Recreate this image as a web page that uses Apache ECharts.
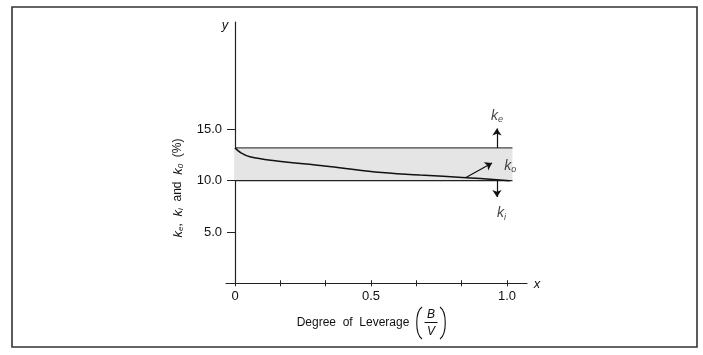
<!DOCTYPE html>
<html>
<head>
<meta charset="utf-8">
<script src="https://cdn.jsdelivr.net/npm/echarts@6/dist/echarts.min.js"></script>
<style>
html,body{margin:0;padding:0;background:#fff;}
#c{width:703px;height:355px;}
</style>
</head>
<body>
<div id="c"></div>
<script>
// Data
var xTickValues = [0, 1/6, 2/6, 3/6, 4/6, 5/6, 1];
var xLabelValues = [0, 0.5, 1.0];
var xLabelTexts = ['0', '0.5', '1.0'];
var yTickValues = [5, 10, 15];
var yLabelTexts = ['5.0', '10.0', '15.0'];
var bandX = [0, 1.02];
var keValue = 13.2;   // cost of equity line
var kiValue = 10.0;   // cost of debt line
var k0X = [0, 0.02, 0.055, 0.147, 0.33, 0.515, 0.68, 0.85, 1.01];
var k0Y = [13.2, 12.75, 12.34, 11.95, 11.43, 10.85, 10.56, 10.3, 10.0];
var keArrow = [[0.963, 13.2], [0.963, 15.1]];
var kiArrow = [[0.963, 10.0], [0.963, 8.4]];
var k0Arrow = [[0.849, 10.31], [0.945, 11.72]];
var labelPoints = [
  {x: 0.963, y: 16.3, sub: 'e'},
  {x: 1.012, y: 11.45, sub: 'o'},
  {x: 0.98, y: 6.8, sub: 'i'}
];

var FONT = 'Liberation Sans, Arial, Helvetica, sans-serif';
var chart = echarts.init(document.getElementById('c'), null, {renderer: 'canvas'});

function zip(xs, ys) { return xs.map(function (x, i) { return [x, ys[i]]; }); }
function fmt(vals, texts) {
  return function (v) {
    for (var i = 0; i < vals.length; i++) if (Math.abs(v - vals[i]) < 1e-6) return texts[i];
    return '';
  };
}

var option = {
  animation: false,
  backgroundColor: '#fff',
  grid: {left: 226, right: 176, top: 22, bottom: 71.7, containLabel: false},
  xAxis: [{
    type: 'value', min: -0.0331, max: 1.0735,
    splitLine: {show: false},
    axisLine: {onZero: false, lineStyle: {color: '#222', width: 1.2}},
    axisTick: {show: true, length: 3, inside: false, customValues: xTickValues, lineStyle: {color: '#222', width: 1}},
    axisLabel: {customValues: xLabelValues, margin: 7, color: '#111', fontSize: 13, fontFamily: FONT,
      formatter: fmt(xLabelValues, xLabelTexts)}
  }, {
    type: 'value', min: -0.0331, max: 1.0735, position: 'bottom',
    splitLine: {show: false},
    axisLine: {show: false},
    axisTick: {show: true, length: 3, inside: true, customValues: xTickValues, lineStyle: {color: '#222', width: 1}},
    axisLabel: {show: false}
  }],
  yAxis: {
    type: 'value', min: 0, max: 25.47,
    splitLine: {show: false},
    axisLine: {onZero: true, lineStyle: {color: '#222', width: 1.2}},
    axisTick: {show: true, length: 8, customValues: yTickValues, lineStyle: {color: '#222', width: 1}},
    axisLabel: {customValues: yTickValues, margin: 4, color: '#111', fontSize: 13, fontFamily: FONT,
      formatter: fmt(yTickValues, yLabelTexts)}
  },
  series: [
    {
      type: 'line', data: zip(bandX, [keValue, keValue]), symbol: 'none',
      lineStyle: {color: '#444', width: 1.3}, z: 3,
      markArea: {silent: true, itemStyle: {color: '#e5e5e5'}, data: [[{coord: [bandX[0], kiValue]}, {coord: [bandX[1], keValue]}]]}
    },
    {
      type: 'line', data: zip(bandX, [kiValue, kiValue]), symbol: 'none',
      lineStyle: {color: '#222', width: 1.3}, z: 3
    },
    {
      type: 'line', data: zip(k0X, k0Y), symbol: 'none', smooth: 0.4,
      lineStyle: {color: '#111', width: 1.5}, z: 4
    },
    {
      type: 'lines', coordinateSystem: 'cartesian2d', z: 5,
      symbol: ['none', 'arrow'], symbolSize: 7,
      lineStyle: {color: '#111', width: 1.2, opacity: 1},
      data: [{coords: keArrow}, {coords: kiArrow}, {coords: k0Arrow}]
    },
    {
      type: 'scatter', symbol: 'circle', symbolSize: 1, z: 6,
      itemStyle: {color: 'rgba(0,0,0,0)'},
      data: labelPoints.map(function (p) { return {value: [p.x, p.y], name: p.sub}; }),
      label: {
        show: true, position: 'inside', color: '#111', fontSize: 14, fontFamily: FONT,
        formatter: function (p) { return '{k|k}{s|' + p.name + '}'; },
        rich: {
          k: {fontSize: 14, fontStyle: 'italic', fontFamily: FONT, color: '#111'},
          s: {fontSize: 9, fontStyle: 'italic', fontFamily: FONT, color: '#111', padding: [7, 0, 0, 0]}
        }
      }
    }
  ],
  graphic: [
    {type: 'rect', shape: {x: 12, y: 7, width: 685, height: 340}, style: {fill: null, stroke: '#333', lineWidth: 1.6}, z: 0},
    {type: 'text', x: 225, y: 25, style: {text: 'y', font: 'italic 13px ' + FONT, fill: '#111', textAlign: 'center', textVerticalAlign: 'middle'}},
    {type: 'text', x: 537, y: 284, style: {text: 'x', font: 'italic 13px ' + FONT, fill: '#111', textAlign: 'center', textVerticalAlign: 'middle'}},
    {type: 'text', x: 353, y: 323, style: {text: 'Degree  of  Leverage', font: '12px ' + FONT, fill: '#111', textAlign: 'center', textVerticalAlign: 'middle'}},
    {type: 'text', x: 431, y: 314.5, style: {text: 'B', font: 'italic 12px ' + FONT, fill: '#111', textAlign: 'center', textVerticalAlign: 'middle'}},
    {type: 'text', x: 431, y: 331.5, style: {text: 'V', font: 'italic 12px ' + FONT, fill: '#111', textAlign: 'center', textVerticalAlign: 'middle'}},
    {type: 'line', shape: {x1: 424.5, y1: 322.5, x2: 437.5, y2: 322.5}, style: {stroke: '#111', lineWidth: 1}},
    {type: 'bezierCurve', shape: {x1: 422, y1: 307, cpx1: 415, cpy1: 312, cpx2: 415, cpy2: 334, x2: 422, y2: 339}, style: {fill: null, stroke: '#111', lineWidth: 1.1}},
    {type: 'bezierCurve', shape: {x1: 440, y1: 307, cpx1: 447, cpy1: 312, cpx2: 447, cpy2: 334, x2: 440, y2: 339}, style: {fill: null, stroke: '#111', lineWidth: 1.1}},
    {type: 'text', x: 178, y: 188, rotation: Math.PI / 2,
      style: {
        text: '{k|k}{s|e}{t|,  }{k|k}{s|i}{t|  and  }{k|k}{s|0}{t|  (%)}',
        textAlign: 'center', textVerticalAlign: 'middle', fill: '#111',
        rich: {
          k: {fontSize: 13, fontStyle: 'italic', fontFamily: FONT, fill: '#111'},
          s: {fontSize: 8, fontStyle: 'italic', fontFamily: FONT, fill: '#111', padding: [5, 0, 0, 0]},
          t: {fontSize: 12, fontFamily: FONT, fill: '#111'}
        }
      }}
  ]
};
try { chart.setOption(option); } catch (e) { console.error(e && e.stack); throw e; }
</script>
</body>
</html>
